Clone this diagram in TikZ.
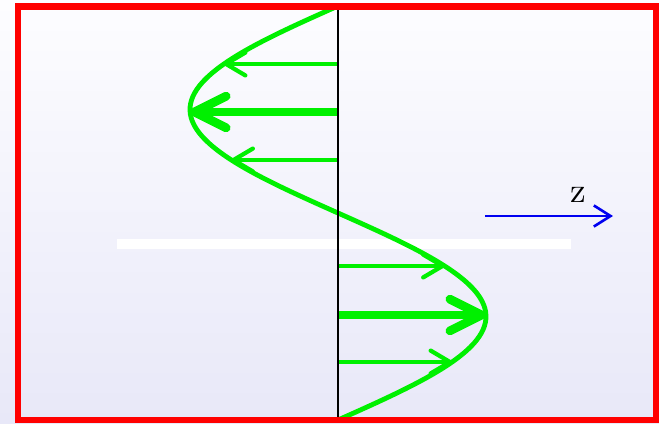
\documentclass[tikz,border=0pt]{standalone}
\usepackage{fontspec}
\usepackage{tikz}
\usetikzlibrary{arrows.meta}
\definecolor{framered}{HTML}{FF0000}
\definecolor{wavegreen}{HTML}{00F000}
\definecolor{bgtop}{HTML}{FDFDFF}
\definecolor{bgbot}{HTML}{E8E8F8}
\definecolor{axisblue}{HTML}{0000F0}
\tikzset{
  wave/.style={wavegreen,line width=5.5pt,line join=round,line cap=round},
  thinar/.style={wavegreen,line width=4.8pt,-{Straight Barb[length=22pt,width=26pt,round]}},
  thickar/.style={wavegreen,line width=10pt,-{Straight Barb[length=36pt,width=36pt,round]}},
  zar/.style={axisblue,line width=3pt,-{Straight Barb[length=19pt,width=24pt]}}
}
\begin{document}
\begin{tikzpicture}[x=0.04cm,y=-0.04cm]
\useasboundingbox (0,0) rectangle (659,423);
\shade[top color=bgtop,bottom color=bgbot] (0,0) rectangle (659,423);
% white strip
\fill[white] (117,239) rectangle (571,249);
% field arrows
\foreach \yy/\st in {64/thinar,112/thickar,160/thinar,266/thinar,315/thickar,362/thinar}{
  \pgfmathsetmacro{\xx}{338-148*sin(0.869565*(\yy-6))}
  \coordinate (base) at (338,\yy);
  \coordinate (tip) at (\xx,\yy);
  \draw[\st] (base) -- (tip);
}
% wave
\draw[wave] plot[domain=6:420,samples=120,smooth] ({338-148*sin(0.869565*(\x-6))},\x);
% axis line
\coordinate (top) at (338,6);
\coordinate (bot) at (338,420);
\draw[black,line width=2.8pt] (top) -- (bot);
% propagation direction
\coordinate (zs) at (485,216);
\coordinate (ze) at (613,216);
\draw[zar] (zs) -- (ze);
\node[scale=4,inner sep=0pt] (zlab) at (578,195) {z};
% frame
\draw[framered,line width=7.5pt] (18,6.5) rectangle (656,420);
\end{tikzpicture}
\end{document}
